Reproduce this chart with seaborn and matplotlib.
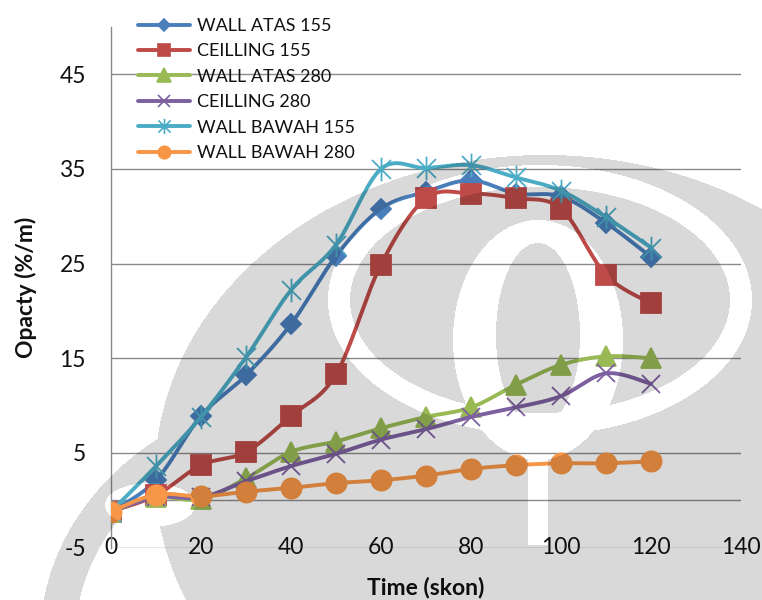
import numpy as np
import pandas as pd
import matplotlib
matplotlib.use("Agg")
import matplotlib.pyplot as plt
from matplotlib.lines import Line2D
from matplotlib.path import Path
import seaborn as sns

# ---- data: opacity (%/m) sampled every 10 s ----
TIME = [0, 10, 20, 30, 40, 50, 60, 70, 80, 90, 100, 110, 120]
SERIES_NAMES = ["WALL ATAS 155", "CEILLING 155", "WALL ATAS 280",
                "CEILLING 280", "WALL BAWAH 155", "WALL BAWAH 280"]
wall_atas_155 = [-1.2, 2.1, 8.9, 13.2, 18.6, 25.8, 30.8, 32.6, 33.8, 32.4, 32.1, 29.3, 25.7]
ceilling_155 = [-1.2, 0.5, 3.7, 5.1, 8.9, 13.3, 24.9, 31.9, 32.4, 31.9, 30.8, 23.8, 20.8]
wall_atas_280 = [-1.2, 0.3, 0.1, 2.3, 5.1, 6.2, 7.6, 8.8, 9.8, 12.2, 14.3, 15.2, 15.0]
ceilling_280 = [-1.2, 0.3, 0.3, 2.0, 3.6, 4.9, 6.4, 7.5, 8.8, 9.8, 11.0, 13.4, 12.3]
wall_bawah_155 = [-1.2, 3.6, 8.8, 15.1, 22.2, 27.0, 35.0, 35.1, 35.4, 34.1, 32.7, 29.9, 26.7]
wall_bawah_280 = [-1.2, 0.6, 0.4, 0.9, 1.3, 1.8, 2.1, 2.6, 3.3, 3.7, 3.9, 3.9, 4.1]
VALUES = [wall_atas_155, ceilling_155, wall_atas_280,
          ceilling_280, wall_bawah_155, wall_bawah_280]

X_TICKS = [0, 20, 40, 60, 80, 100, 120, 140]
Y_TICKS = [-5, 5, 15, 25, 35, 45]

# ---- styling ----
COLORS = ["#4a7ebb", "#be4b48", "#98b954", "#7d60a0", "#4bacc6", "#f79646"]
asterisk = Path([(-1, -1), (1, 1), (-1, 1), (1, -1), (0, -1.25), (0, 1.25)],
                [Path.MOVETO, Path.LINETO] * 3)
MARKERS = ["D", "s", "^", "x", asterisk, "o"]
HOLLOW = [False, False, False, True, True, False]
MSIZE = [10, 14.5, 14.5, 13, 17, 14.5]
MSIZE_LEG = [6.5, 9, 9.5, 8.5, 11, 9]
GRID = "#8a8a8a"
TEXT = "#111111"
FONT = ["Lato", "DejaVu Sans"]

sns.set_style("white")
plt.rcParams["font.family"] = FONT


def smooth(xs, ys, n=30):
    """Bezier smoothing through every point (Catmull-Rom style tangents)."""
    P = np.column_stack([xs, ys]).astype(float)
    ext = np.vstack([P[0], P, P[-1]])
    parts = []
    for i in range(len(P) - 1):
        p0, p1, p2, p3 = ext[i], ext[i + 1], ext[i + 2], ext[i + 3]
        c1 = p1 + (p2 - p0) / 6.0
        c2 = p2 - (p3 - p1) / 6.0
        t = np.linspace(0, 1, n, endpoint=(i == len(P) - 2))[:, None]
        parts.append((1 - t) ** 3 * p1 + 3 * (1 - t) ** 2 * t * c1
                     + 3 * (1 - t) * t ** 2 * c2 + t ** 3 * p2)
    return np.vstack(parts)


W, H = 762, 600
fig = plt.figure(figsize=(W / 100, H / 100), dpi=100)
fig.patch.set_facecolor("white")
ax = fig.add_axes([111 / W, 52.5 / H, 630 / W, 520.5 / H])
ax.set_facecolor("none")

for i, (name, vals) in enumerate(zip(SERIES_NAMES, VALUES)):
    curve = smooth(TIME, vals)
    df_curve = pd.DataFrame({"t": curve[:, 0], "v": curve[:, 1]})
    sns.lineplot(data=df_curve, x="t", y="v", ax=ax, sort=False, estimator=None,
                 color=COLORS[i], linewidth=2.8, zorder=3 + i)
    df_pts = pd.DataFrame({"t": TIME, "v": vals})
    sns.lineplot(data=df_pts, x="t", y="v", ax=ax, sort=False, estimator=None,
                 linestyle="", marker=MARKERS[i], markersize=MSIZE[i],
                 markerfacecolor=("none" if HOLLOW[i] else COLORS[i]),
                 markeredgecolor=COLORS[i], markeredgewidth=1.3,
                 color=COLORS[i], zorder=3 + i)

ax.set_xlim(0, 140)
ax.set_ylim(-5, 50)
ax.set_xticks(X_TICKS)
ax.set_yticks(Y_TICKS)
ax.set_xticklabels([str(v) for v in X_TICKS])
ax.set_yticklabels([str(v) for v in Y_TICKS])
ax.grid(axis="y", color=GRID, linewidth=1.0)
ax.grid(axis="x", visible=False)
ax.axhline(0, color=GRID, linewidth=1.0, zorder=1)
for side in ("top", "right", "bottom"):
    ax.spines[side].set_visible(False)
ax.spines["left"].set_color(GRID)
ax.spines["left"].set_linewidth(1.0)
ax.tick_params(axis="both", length=0, labelsize=16.5, labelcolor=TEXT)
ax.tick_params(axis="y", pad=18)
ax.tick_params(axis="x", pad=0)
for lbl in ax.get_xticklabels():
    lbl.set_va("center")
ax.set_xlabel("")
ax.set_ylabel("")

fig.text(26 / W, 1 - 287 / H, "Opacty (%/m)", rotation=90, ha="center",
         va="center", fontsize=16.5, fontweight="bold", color=TEXT)
fig.text(426 / W, 1 - 577 / H, "Time (skon)", ha="center", va="top",
         fontsize=16.5, fontweight="bold", color=TEXT)

handles = [Line2D([0], [0], color=COLORS[i], linewidth=2.8, marker=MARKERS[i],
                  markersize=MSIZE_LEG[i],
                  markerfacecolor=("none" if HOLLOW[i] else COLORS[i]),
                  markeredgecolor=COLORS[i], markeredgewidth=1.2)
           for i in range(len(SERIES_NAMES))]
fig.legend(handles, SERIES_NAMES, loc="upper left",
           bbox_to_anchor=(138 / W, 1 - 18 / H), bbox_transform=fig.transFigure,
           frameon=False, fontsize=13, handlelength=2.9, handletextpad=0.35,
           labelspacing=0.52, borderpad=0, borderaxespad=0, labelcolor=TEXT)

# ---- faint university emblem printed over the page ----
yy, xx = np.mgrid[0:H, 0:W] + 0.5


def ell(cx, cy, a, b):
    return ((xx - cx) / a) ** 2 + ((yy - cy) / b) ** 2 <= 1.0


def band(cx, cy, a, b, t):
    return ell(cx, cy, a, b) & ~ell(cx, cy, a - t, b - t)


emblem = ell(545, 475, 390, 320)
emblem |= band(330, 640, 290, 250, 35)
emblem &= ~band(540, 300, 212, 135, 22)
emblem &= ~(ell(538, 340, 85, 120) & ~ell(538, 335, 42, 92))
emblem &= ~((xx > 528) & (xx < 548) & (yy > 430) & (yy < 545))
emblem &= ~ell(150, 505, 45, 22)
overlay = np.zeros((H, W, 4))
overlay[..., 3] = emblem * 0.15
fig.figimage(overlay, xo=0, yo=0, origin="upper", zorder=20)

fig.savefig("out.png", dpi=100)
